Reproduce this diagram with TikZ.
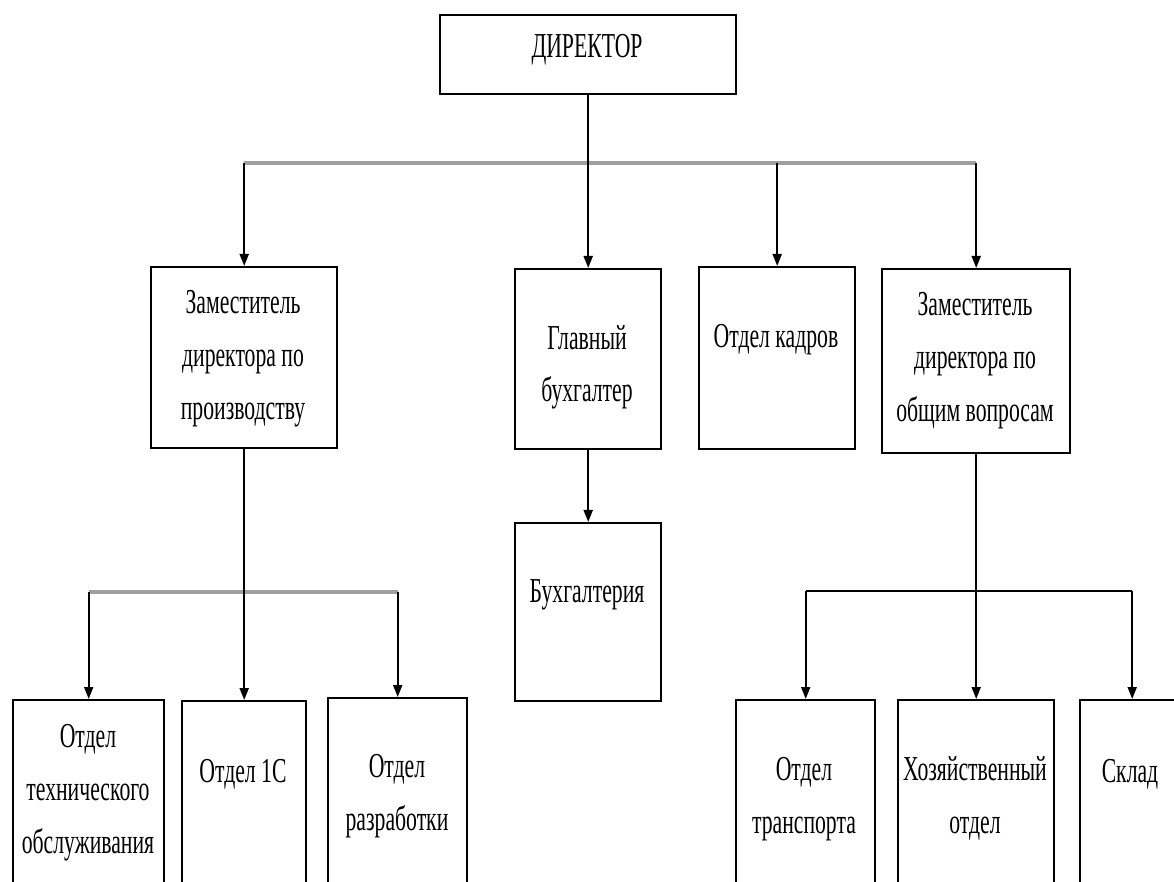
\documentclass[tikz,border=0pt]{standalone}
\usepackage{fontspec}
\setmainfont{Liberation Serif}[FakeStretch=0.62]
\usetikzlibrary{arrows.meta}
\begin{document}
\begin{tikzpicture}[x=0.5pt,y=-0.5pt,
  box/.style={draw,line width=1.2pt,inner sep=0pt,anchor=north west},
  lbl/.style={align=center,font=\fontsize{17.5}{26.5}\selectfont,inner sep=0pt,anchor=base},
  conn/.style={line width=0.9pt},
  arr/.style={conn,-{Triangle[length=6pt,width=4.5pt]}},
  bus/.style={line width=2pt,gray!75}]
\useasboundingbox (0,0) rectangle (1174,882);
\clip (0,0) rectangle (1174,882);
% boxes
\node[box,minimum width=148pt,minimum height=39.5pt] (dir) at (439,14) {};
\node[box,minimum width=93pt,minimum height=90.5pt] (dep1) at (150,266) {};
\node[box,minimum width=73pt,minimum height=90pt] (gb) at (514,268) {};
\node[box,minimum width=78pt,minimum height=91pt] (ok) at (698,266) {};
\node[box,minimum width=94pt,minimum height=92pt] (dep2) at (881,268) {};
\node[box,minimum width=73pt,minimum height=89pt] (buh) at (514,522) {};
\node[box,minimum width=75.5pt,minimum height=125pt] (ot) at (12,699) {};
\node[box,minimum width=62pt,minimum height=125pt] (o1c) at (181,700) {};
\node[box,minimum width=69.5pt,minimum height=125pt] (orz) at (327,697) {};
\node[box,minimum width=69.5pt,minimum height=125pt] (otr) at (735,699) {};
\node[box,minimum width=78pt,minimum height=125pt] (hoz) at (897,699) {};
\node[box,minimum width=52pt,minimum height=125pt] (skl) at (1079,699) {};
% labels (anchor = baseline of the last line)
\node[lbl] (tdir) at (587,58) {ДИРЕКТОР};
\node[lbl] (tdep1) at (243,420) {Заместитель\\директора по\\производству};
\node[lbl] (tgb) at (587,402) {Главный\\бухгалтер};
\node[lbl] (tok) at (776,348) {Отдел кадров};
\node[lbl] (tdep2) at (975,422) {Заместитель\\директора по\\общим вопросам};
\node[lbl] (tbuh) at (587,603) {Бухгалтерия};
\node[lbl] (tot) at (88,853) {Отдел\\технического\\обслуживания};
\node[lbl] (to1c) at (243,782) {Отдел 1С};
\node[lbl] (torz) at (397,830) {Отдел\\разработки};
\node[lbl] (totr) at (804,833) {Отдел\\транспорта};
\node[lbl] (thoz) at (975,833) {Хозяйственный\\отдел};
\node[lbl] (tskl) at (1130,782) {Склад};
% connectors
\coordinate (busy) at (0,163);
\coordinate (sby1) at (0,592);
\coordinate (sby2) at (0,591);
\draw[bus] (dep1.north |- busy) -- (dep2.north |- busy);
\draw[arr] (dir.south) -- (gb.north);
\draw[arr] (dep1.north |- busy) -- (dep1.north);
\draw[arr] (ok.north |- busy) -- (ok.north);
\draw[arr] (dep2.north |- busy) -- (dep2.north);
\draw[arr] (gb.south) -- (buh.north);
\draw[bus] (ot.north |- sby1) -- (orz.north |- sby1);
\draw[arr] (dep1.south) -- (o1c.north);
\draw[arr] (ot.north |- sby1) -- (ot.north);
\draw[arr] (orz.north |- sby1) -- (orz.north);
\draw[conn,line width=1.1pt] (otr.north |- sby2) -- (skl.north |- sby2);
\draw[arr] (dep2.south) -- (hoz.north);
\draw[arr] (otr.north |- sby2) -- (otr.north);
\draw[arr] (skl.north |- sby2) -- (skl.north);
\end{tikzpicture}
\end{document}
